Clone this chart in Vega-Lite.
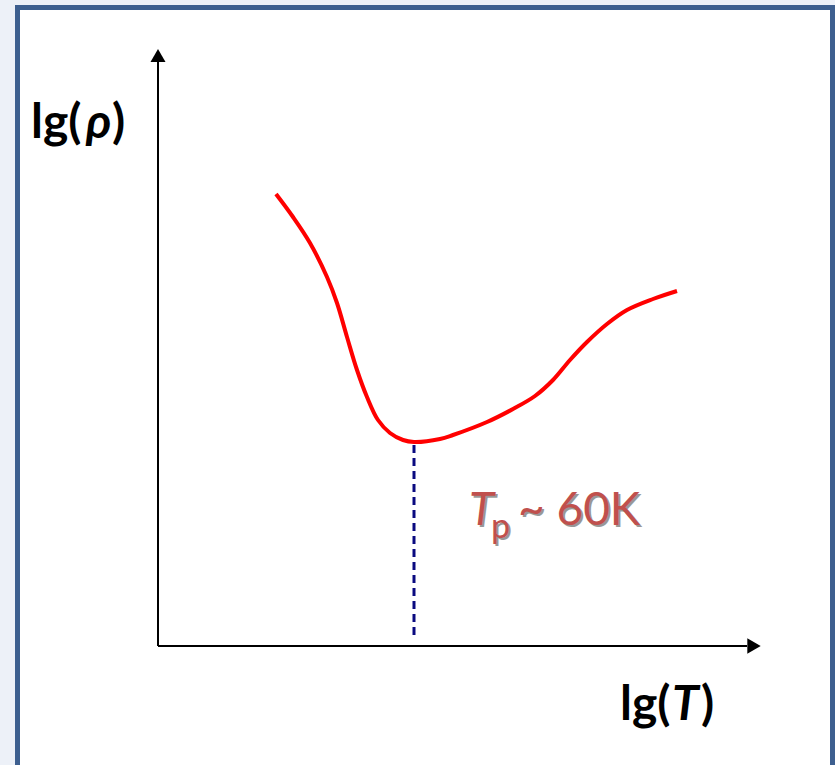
{
  "$schema": "https://vega.github.io/schema/vega-lite/v6.json",
  "width": 835,
  "height": 765,
  "padding": 0,
  "autosize": {"type": "fit", "contains": "padding"},
  "background": "#edf1f8",
  "config": {"view": {"stroke": null}},
  "datasets": {
    "frame": [{"x1": -1.405, "x2": 6.745, "y1": 6.385, "y2": -1.5}],
    "curve": [
      {"lgT": 1.18, "lgRho": 4.52}, {"lgT": 1.35, "lgRho": 4.29}, {"lgT": 1.52, "lgRho": 4.03},
      {"lgT": 1.69, "lgRho": 3.69}, {"lgT": 1.79, "lgRho": 3.43}, {"lgT": 1.89, "lgRho": 3.09},
      {"lgT": 1.99, "lgRho": 2.76}, {"lgT": 2.09, "lgRho": 2.49}, {"lgT": 2.20, "lgRho": 2.26},
      {"lgT": 2.32, "lgRho": 2.13}, {"lgT": 2.45, "lgRho": 2.06}, {"lgT": 2.56, "lgRho": 2.04},
      {"lgT": 2.82, "lgRho": 2.07}, {"lgT": 2.95, "lgRho": 2.11}, {"lgT": 3.29, "lgRho": 2.24},
      {"lgT": 3.55, "lgRho": 2.37}, {"lgT": 3.77, "lgRho": 2.50}, {"lgT": 3.95, "lgRho": 2.66},
      {"lgT": 4.12, "lgRho": 2.86}, {"lgT": 4.29, "lgRho": 3.04}, {"lgT": 4.49, "lgRho": 3.22},
      {"lgT": 4.69, "lgRho": 3.36}, {"lgT": 4.95, "lgRho": 3.47}, {"lgT": 5.19, "lgRho": 3.55}
    ],
    "axes": [
      {"x1": 0, "x2": 0, "y1": 0, "y2": 5.84},
      {"x1": 0, "x2": 5.89, "y1": 0, "y2": 0}
    ],
    "arrowUp": [{"x": 0, "y": 5.905}],
    "arrowRight": [{"x": 5.96, "y": 0}],
    "tp": [{"x": 2.56, "y1": 2.01, "y2": 0.08}],
    "axisText": [
      {"x": -1.27, "y": 5.08, "t": "lg("},
      {"x": -0.46, "y": 5.08, "t": ")"},
      {"x": 4.62, "y": -0.74, "t": "lg("},
      {"x": 5.43, "y": -0.74, "t": ")"}
    ],
    "axisItalic": [
      {"x": -0.72, "y": 5.08, "t": "ρ"},
      {"x": 5.14, "y": -0.74, "t": "T"}
    ],
    "redT": [{"x": 3.11, "y": 1.21, "t": "T"}],
    "redP": [{"x": 3.33, "y": 1.08, "t": "p"}],
    "redRest": [{"x": 3.60, "y": 1.21, "t": "~ 60K"}]
  },
  "layer": [
    {
      "data": {"name": "frame"},
      "mark": {"type": "rect", "fill": "white", "stroke": "#3d5f8f", "strokeWidth": 5, "clip": true},
      "encoding": {
        "x": {"field": "x1", "type": "quantitative", "scale": {"domain": [-1.58, 6.77], "nice": false, "zero": false}, "axis": null},
        "x2": {"field": "x2"},
        "y": {"field": "y1", "type": "quantitative", "scale": {"domain": [-1.19, 6.46], "nice": false, "zero": false}, "axis": null},
        "y2": {"field": "y2"}
      }
    },
    {
      "data": {"name": "axes"},
      "mark": {"type": "rule", "color": "black", "strokeWidth": 2},
      "encoding": {
        "x": {"field": "x1", "type": "quantitative"},
        "x2": {"field": "x2"},
        "y": {"field": "y1", "type": "quantitative"},
        "y2": {"field": "y2"}
      }
    },
    {
      "data": {"name": "arrowUp"},
      "mark": {"type": "point", "shape": "triangle-up", "filled": true, "color": "black", "size": 225, "opacity": 1},
      "encoding": {
        "x": {"field": "x", "type": "quantitative"},
        "y": {"field": "y", "type": "quantitative"}
      }
    },
    {
      "data": {"name": "arrowRight"},
      "mark": {"type": "point", "shape": "triangle-right", "filled": true, "color": "black", "size": 240, "opacity": 1},
      "encoding": {
        "x": {"field": "x", "type": "quantitative"},
        "y": {"field": "y", "type": "quantitative"}
      }
    },
    {
      "data": {"name": "tp"},
      "mark": {"type": "rule", "color": "#0a0a80", "strokeWidth": 3, "strokeDash": [8, 5]},
      "encoding": {
        "x": {"field": "x", "type": "quantitative"},
        "y": {"field": "y1", "type": "quantitative"},
        "y2": {"field": "y2"}
      }
    },
    {
      "data": {"name": "curve"},
      "mark": {"type": "line", "color": "#ff0000", "strokeWidth": 4, "interpolate": "catmull-rom"},
      "encoding": {
        "x": {"field": "lgT", "type": "quantitative"},
        "y": {"field": "lgRho", "type": "quantitative"}
      }
    },
    {
      "data": {"name": "axisText"},
      "mark": {"type": "text", "font": "Lato", "fontWeight": "bold", "fontSize": 48, "align": "left", "baseline": "alphabetic", "color": "black"},
      "encoding": {
        "x": {"field": "x", "type": "quantitative"},
        "y": {"field": "y", "type": "quantitative"},
        "text": {"field": "t"}
      }
    },
    {
      "data": {"name": "axisItalic"},
      "mark": {"type": "text", "font": "Lato", "fontWeight": "bold", "fontStyle": "italic", "fontSize": 48, "align": "left", "baseline": "alphabetic", "color": "black"},
      "encoding": {
        "x": {"field": "x", "type": "quantitative"},
        "y": {"field": "y", "type": "quantitative"},
        "text": {"field": "t"}
      }
    },
    {
      "data": {"name": "redT"},
      "mark": {"type": "text", "font": "Lato", "fontStyle": "italic", "fontSize": 46, "align": "left", "baseline": "alphabetic", "color": "#000000", "opacity": 0.4, "dx": 2, "dy": 2},
      "encoding": {"x": {"field": "x", "type": "quantitative"}, "y": {"field": "y", "type": "quantitative"}, "text": {"field": "t"}}
    },
    {
      "data": {"name": "redP"},
      "mark": {"type": "text", "font": "Lato", "fontSize": 34, "align": "left", "baseline": "alphabetic", "color": "#000000", "opacity": 0.4, "dx": 2, "dy": 2},
      "encoding": {"x": {"field": "x", "type": "quantitative"}, "y": {"field": "y", "type": "quantitative"}, "text": {"field": "t"}}
    },
    {
      "data": {"name": "redRest"},
      "mark": {"type": "text", "font": "Lato", "fontSize": 46, "align": "left", "baseline": "alphabetic", "color": "#000000", "opacity": 0.4, "dx": 2, "dy": 2},
      "encoding": {"x": {"field": "x", "type": "quantitative"}, "y": {"field": "y", "type": "quantitative"}, "text": {"field": "t"}}
    },
    {
      "data": {"name": "redT"},
      "mark": {"type": "text", "font": "Lato", "fontStyle": "italic", "fontSize": 46, "align": "left", "baseline": "alphabetic", "color": "#c0504d"},
      "encoding": {"x": {"field": "x", "type": "quantitative"}, "y": {"field": "y", "type": "quantitative"}, "text": {"field": "t"}}
    },
    {
      "data": {"name": "redP"},
      "mark": {"type": "text", "font": "Lato", "fontSize": 34, "align": "left", "baseline": "alphabetic", "color": "#c0504d"},
      "encoding": {"x": {"field": "x", "type": "quantitative"}, "y": {"field": "y", "type": "quantitative"}, "text": {"field": "t"}}
    },
    {
      "data": {"name": "redRest"},
      "mark": {"type": "text", "font": "Lato", "fontSize": 46, "align": "left", "baseline": "alphabetic", "color": "#c0504d"},
      "encoding": {"x": {"field": "x", "type": "quantitative"}, "y": {"field": "y", "type": "quantitative"}, "text": {"field": "t"}}
    }
  ]
}
